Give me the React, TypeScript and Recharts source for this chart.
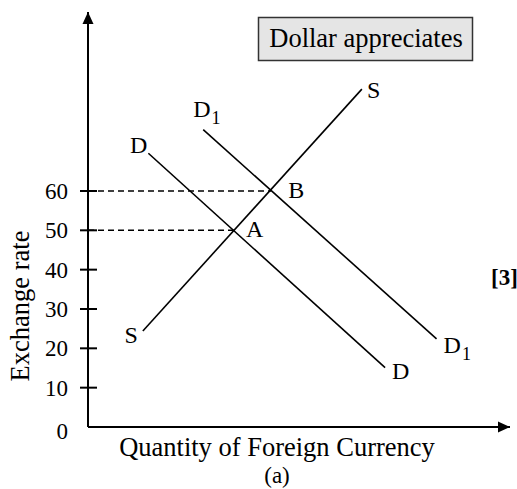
import { LineChart, Line, XAxis, YAxis, ReferenceDot } from 'recharts';

// quantity (0-100 along the axis) vs exchange rate
const supply = [
  { q: 13.0, rate: 24.4 },
  { q: 64.9, rate: 85.9 },
];
const demand = [
  { q: 14.3, rate: 69.6 },
  { q: 70.4, rate: 15.1 },
];
const demand1 = [
  { q: 27.3, rate: 75.6 },
  { q: 82.6, rate: 22.4 },
];
const guideA = [
  { q: 0, rate: 50 },
  { q: 34.6, rate: 50 },
];
const guideB = [
  { q: 0, rate: 60 },
  { q: 43.4, rate: 60 },
];
const yTicks = [0, 10, 20, 30, 40, 50, 60];

const curveLabels = [
  { id: 'sLow', text: 'S', sub: '', q: 13.0, rate: 24.4 },
  { id: 'sHigh', text: 'S', sub: '', q: 64.9, rate: 85.9 },
  { id: 'dHigh', text: 'D', sub: '', q: 14.3, rate: 69.6 },
  { id: 'dLow', text: 'D', sub: '', q: 70.4, rate: 15.1 },
  { id: 'd1High', text: 'D', sub: '1', q: 27.3, rate: 75.6 },
  { id: 'd1Low', text: 'D', sub: '1', q: 82.6, rate: 22.4 },
  { id: 'a', text: 'A', sub: '', q: 34.6, rate: 50 },
  { id: 'b', text: 'B', sub: '', q: 43.4, rate: 60 },
];

const FONT = '"Liberation Serif", "Times New Roman", serif';

// pixel nudges for each label: [dx, dy, anchor]
const nudge: Record<string, [number, number, string]> = {
  sLow: [-5, 12, 'end'],
  sHigh: [5, 9, 'start'],
  dHigh: [-1, 0, 'end'],
  dLow: [7, 11, 'start'],
  d1High: [-10, -13, 'start'],
  d1Low: [7, 14, 'start'],
  a: [12, 7, 'start'],
  b: [17, 7, 'start'],
};

const YTick = (props: any) => {
  const { x, y, payload } = props;
  if (payload.value === 0) {
    return (
      <text x={x - 20} y={y + 12} textAnchor="end" fontFamily={FONT} fontSize={23} fill="#000">
        0
      </text>
    );
  }
  return (
    <g>
      <line x1={x - 8} x2={x + 9} y1={y} y2={y} stroke="#000" strokeWidth={2} />
      <text x={x - 20} y={y + 8} textAnchor="end" fontFamily={FONT} fontSize={23} fill="#000">
        {payload.value}
      </text>
    </g>
  );
};

export default function App() {
  return (
    <div style={{ position: 'absolute', left: 0, top: 0, width: 517, height: 489, background: '#fff' }}>
      <LineChart width={517} height={489} margin={{ top: 12, right: 7, bottom: 0, left: 0 }}>
        <XAxis
          type="number"
          dataKey="q"
          domain={[0, 100]}
          height={62}
          tick={false}
          tickLine={false}
          axisLine={{ stroke: '#000', strokeWidth: 2 }}
        />
        <YAxis
          type="number"
          dataKey="rate"
          domain={[0, 105.5]}
          width={88}
          ticks={yTicks}
          tickLine={false}
          tickSize={0}
          tickMargin={0}
          tick={<YTick />}
          axisLine={{ stroke: '#000', strokeWidth: 2 }}
        />
        <Line data={guideA} dataKey="rate" type="linear" stroke="#000" strokeWidth={1.5} strokeDasharray="6 4" dot={false} isAnimationActive={false} />
        <Line data={guideB} dataKey="rate" type="linear" stroke="#000" strokeWidth={1.5} strokeDasharray="6 4" dot={false} isAnimationActive={false} />
        <Line data={supply} dataKey="rate" type="linear" stroke="#000" strokeWidth={1.6} dot={false} isAnimationActive={false} />
        <Line data={demand} dataKey="rate" type="linear" stroke="#000" strokeWidth={1.6} dot={false} isAnimationActive={false} />
        <Line data={demand1} dataKey="rate" type="linear" stroke="#000" strokeWidth={1.6} dot={false} isAnimationActive={false} />

        {/* axis arrowheads */}
        <ReferenceDot
          x={100}
          y={0}
          ifOverflow="visible"
          shape={(p: any) => (
            <path d={`M${p.cx},${p.cy} L${p.cx - 12},${p.cy - 5.5} L${p.cx - 12},${p.cy + 5.5} Z`} fill="#000" />
          )}
        />
        <ReferenceDot
          x={0}
          y={105.5}
          ifOverflow="visible"
          shape={(p: any) => (
            <path d={`M${p.cx},${p.cy} L${p.cx - 5.5},${p.cy + 12} L${p.cx + 5.5},${p.cy + 12} Z`} fill="#000" />
          )}
        />

        {curveLabels.map((l) => {
          const [dx, dy, anchor] = nudge[l.id];
          return (
            <ReferenceDot
              key={l.id}
              x={l.q}
              y={l.rate}
              ifOverflow="visible"
              shape={(p: any) => (
                <text
                  x={p.cx + dx}
                  y={p.cy + dy}
                  textAnchor={anchor as any}
                  fontFamily={FONT}
                  fontSize={24}
                  fill="#000"
                >
                  {l.text}
                  {l.sub && (
                    <tspan dx={1} dy={7} fontSize={18}>
                      {l.sub}
                    </tspan>
                  )}
                </text>
              )}
            />
          );
        })}

        <text x={20} y={306} transform="rotate(-90 20 306)" textAnchor="middle" dominantBaseline="central" fontFamily={FONT} fontSize={26.5} fill="#000">
          Exchange rate
        </text>
        <text x={277} y={456} textAnchor="middle" fontFamily={FONT} fontSize={26.5} fill="#000">
          Quantity of Foreign Currency
        </text>
        <text x={277} y={483} textAnchor="middle" fontFamily={FONT} fontSize={23} fill="#000">
          (a)
        </text>
        <text x={491} y={285} fontFamily={FONT} fontSize={23} fontWeight="bold" fill="#000">
          [3]
        </text>
        <rect x={258.5} y={17.5} width={214} height={43} fill="#e5e5e5" stroke="#333" strokeWidth={1.5} />
        <text x={366} y={47} textAnchor="middle" fontFamily={FONT} fontSize={26.5} fill="#000">
          Dollar appreciates
        </text>
      </LineChart>
    </div>
  );
}
